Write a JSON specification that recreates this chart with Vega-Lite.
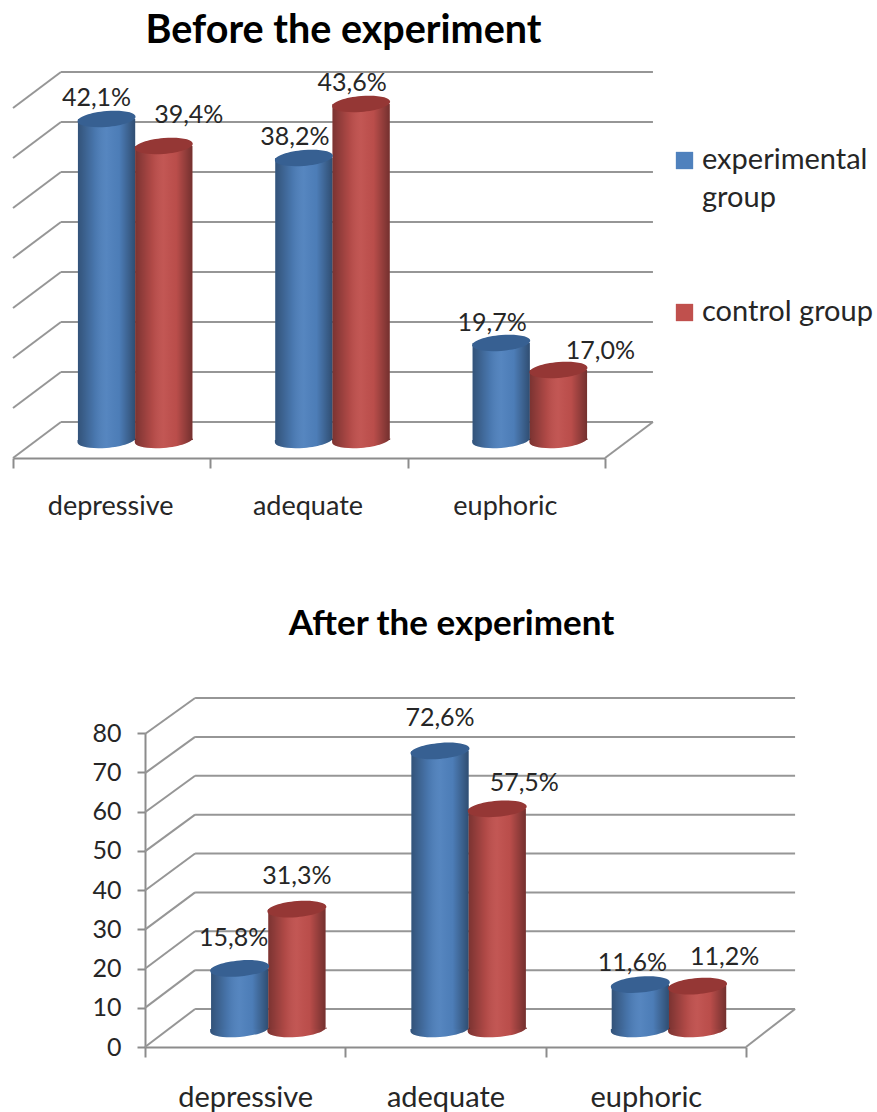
{
  "$schema": "https://vega.github.io/schema/vega-lite/v6.json",
  "padding": 0,
  "background": "white",
  "bounds": "flush",
  "spacing": 0,
  "config": {
    "view": {"stroke": null},
    "font": "Lato",
    "text": {"font": "Lato", "fontSize": 25, "color": "#262626"},
    "axis": {"labelFont": "Lato", "labelColor": "#262626", "grid": false, "title": null, "domainColor": "#8c8c8c", "tickColor": "#8c8c8c", "domainWidth": 2, "tickWidth": 2, "labelAngle": 0}
  },
  "datasets": {
    "before": [
      {"state": "depressive", "group": "experimental group", "value": 42.1, "label": "42,1%"},
      {"state": "depressive", "group": "control group", "value": 39.4, "label": "39,4%"},
      {"state": "adequate", "group": "experimental group", "value": 38.2, "label": "38,2%"},
      {"state": "adequate", "group": "control group", "value": 43.6, "label": "43,6%"},
      {"state": "euphoric", "group": "experimental group", "value": 19.7, "label": "19,7%"},
      {"state": "euphoric", "group": "control group", "value": 17.0, "label": "17,0%"}
    ],
    "after": [
      {"state": "depressive", "group": "experimental group", "value": 15.8, "label": "15,8%"},
      {"state": "depressive", "group": "control group", "value": 31.3, "label": "31,3%"},
      {"state": "adequate", "group": "experimental group", "value": 72.6, "label": "72,6%"},
      {"state": "adequate", "group": "control group", "value": 57.5, "label": "57,5%"},
      {"state": "euphoric", "group": "experimental group", "value": 11.6, "label": "11,6%"},
      {"state": "euphoric", "group": "control group", "value": 11.2, "label": "11,2%"}
    ],
    "wallBefore": [
      {"level": 10, "front": 6.4}, {"level": 15, "front": 11.4}, {"level": 20, "front": 16.4}, {"level": 25, "front": 21.4},
      {"level": 30, "front": 26.4}, {"level": 35, "front": 31.4}, {"level": 40, "front": 36.4}, {"level": 45, "front": 41.4}
    ],
    "wallAfter": [
      {"level": 0, "front": -9.77}, {"level": 10, "front": 0.29}, {"level": 20, "front": 10.36}, {"level": 30, "front": 20.42}, {"level": 40, "front": 30.48},
      {"level": 50, "front": 40.55}, {"level": 60, "front": 50.61}, {"level": 70, "front": 60.68}, {"level": 80, "front": 70.74}
    ]
  },
  "vconcat": [
    {
      "width": 877,
      "height": 560,
      "title": {"text": "Before the experiment", "font": "Lato", "fontSize": 39.5, "fontWeight": "bold", "color": "#000000", "anchor": "middle", "dx": -95, "offset": -51},
      "resolve": {"scale": {"x": "independent", "y": "independent"}},
      "layer": [
        {
          "data": {"name": "wallBefore"},
          "encoding": {
            "y": {"field": "level", "type": "quantitative", "axis": null, "scale": {"domain": [10, 45], "range": [422, 72]}}
          },
          "layer": [
            {"mark": {"type": "rule", "stroke": "#969696", "strokeWidth": 2},
             "encoding": {"x": {"datum": 0.243, "type": "quantitative", "axis": null, "scale": {"domain": [0, 3], "range": [13, 605]}}, "x2": {"datum": 3.243}}},
            {"mark": {"type": "rule", "stroke": "#969696", "strokeWidth": 2},
             "encoding": {"x": {"datum": 0.243, "type": "quantitative", "axis": null}, "x2": {"datum": 0}, "y2": {"field": "front"}}},
            {"transform": [{"filter": "datum.level === 10"}],
             "mark": {"type": "rule", "stroke": "#969696", "strokeWidth": 2},
             "encoding": {"x": {"datum": 3.243, "type": "quantitative", "axis": null}, "x2": {"datum": 3}, "y2": {"field": "front"}}}
          ]
        },
        {
          "data": {"name": "before"},
          "mark": {"type": "bar", "opacity": 0},
          "encoding": {
            "x": {"field": "state", "type": "nominal", "sort": null,
                  "scale": {"domain": ["depressive", "adequate", "euphoric"], "range": [13, 605], "paddingInner": 0, "paddingOuter": 0},
                  "axis": {"orient": "bottom", "offset": -102, "tickBand": "extent", "tickSize": 10, "labelFontSize": 27, "labelPadding": 25, "labelOffset": -1.5}}
          }
        },
        {
          "data": {"name": "before"},
          "encoding": {
            "x": {"field": "state", "type": "nominal", "axis": null,
                  "scale": {"domain": ["depressive", "adequate", "euphoric"], "range": [36.5, 628.5], "paddingInner": 0.42, "paddingOuter": 0.21}},
            "xOffset": {"field": "group", "type": "nominal", "scale": {"domain": ["experimental group", "control group"]}},
            "y": {"field": "value", "type": "quantitative", "axis": null, "scale": {"domain": [10, 45], "range": [440, 90]}},
            "color": {"field": "group", "type": "nominal", "sort": null,
               "scale": {"domain": ["experimental group", "control group"], "range": ["#4F81BD", "#C0504D"]},
               "legend": {"orient": "none", "legendX": 670, "legendY": 146, "padding": 0, "title": null, "symbolType": "square", "symbolSize": 300, "symbolStrokeWidth": 0, "labelFont": "Lato", "labelFontSize": 29, "labelColor": "#262626", "labelOffset": 3, "rowPadding": 84, "labelBaseline": "top", "labelLimit": 300,
                 "labelExpr": "datum.label === 'experimental group' ? ['experimental', 'group'] : datum.label",
                 "encoding": {"labels": {"lineHeight": {"value": 38}, "dy": {"value": -15}}}}}
          },
          "layer": [
            {"mark": {"type": "point", "filled": true, "opacity": 1, "size": 3364, "shape": "M-1,0L-1,0.08A1,0.27 -5 0,0 1,-0.08L1,0Z"},
             "encoding": {"y": {"datum": 10, "type": "quantitative"}}},
            {"mark": {"type": "bar"},
             "encoding": {"y2": {"datum": 10}}},
            {"mark": {"type": "point", "filled": true, "opacity": 1, "size": 3364, "shape": "M-1,0L-1,0.08A1,0.27 -5 0,0 1,-0.08L1,0Z", "fill": {"gradient": "linear", "x1": 0, "x2": 1, "y1": 0, "y2": 0, "stops": [{"offset": 0, "color": "rgba(0,0,0,0.36)"}, {"offset": 0.3, "color": "rgba(0,0,0,0.08)"}, {"offset": 0.5, "color": "rgba(255,255,255,0.04)"}, {"offset": 0.72, "color": "rgba(0,0,0,0.03)"}, {"offset": 1, "color": "rgba(0,0,0,0.4)"}]}},
             "encoding": {"y": {"datum": 10, "type": "quantitative"}, "color": {"value": null}}},
            {"mark": {"type": "bar", "fill": {"gradient": "linear", "x1": 0, "x2": 1, "y1": 0, "y2": 0, "stops": [{"offset": 0, "color": "rgba(0,0,0,0.36)"}, {"offset": 0.3, "color": "rgba(0,0,0,0.08)"}, {"offset": 0.5, "color": "rgba(255,255,255,0.04)"}, {"offset": 0.72, "color": "rgba(0,0,0,0.03)"}, {"offset": 1, "color": "rgba(0,0,0,0.4)"}]}},
             "encoding": {"y2": {"datum": 10}, "color": {"value": null}}},
            {"mark": {"type": "point", "filled": true, "opacity": 1, "size": 3364, "shape": "M-1,0.08A1,0.27 -5 1,1 1,-0.08A1,0.27 -5 1,1 -1,0.08Z"},
             "encoding": {"color": {"value": null}, "fill": {"field": "group", "type": "nominal", "legend": null, "scale": {"domain": ["experimental group", "control group"], "range": ["#376092", "#953735"]}}}},
            {"transform": [{"filter": "datum.label === '42,1%'"}], "mark": {"type": "text", "dx": -10, "dy": -21, "color": "#262626"}, "encoding": {"color": {"value": "#262626"}, "text": {"field": "label"}}},
            {"transform": [{"filter": "datum.label === '39,4%'"}], "mark": {"type": "text", "dx": 25, "dy": -31}, "encoding": {"color": {"value": "#262626"}, "text": {"field": "label"}}},
            {"transform": [{"filter": "datum.label === '38,2%'"}], "mark": {"type": "text", "dx": -9, "dy": -21}, "encoding": {"color": {"value": "#262626"}, "text": {"field": "label"}}},
            {"transform": [{"filter": "datum.label === '43,6%'"}], "mark": {"type": "text", "dx": -9, "dy": -21}, "encoding": {"color": {"value": "#262626"}, "text": {"field": "label"}}},
            {"transform": [{"filter": "datum.label === '19,7%'"}], "mark": {"type": "text", "dx": -9, "dy": -20}, "encoding": {"color": {"value": "#262626"}, "text": {"field": "label"}}},
            {"transform": [{"filter": "datum.label === '17,0%'"}], "mark": {"type": "text", "dx": 42, "dy": -19}, "encoding": {"color": {"value": "#262626"}, "text": {"field": "label"}}}
          ]
        }
      ]
    },
    {
      "width": 877,
      "height": 552,
      "title": {"text": "After the experiment", "font": "Lato", "fontSize": 35, "fontWeight": "bold", "color": "#000000", "anchor": "middle", "dx": 13, "offset": -82},
      "resolve": {"scale": {"x": "independent", "y": "independent"}},
      "layer": [
        {
          "data": {"name": "wallAfter"},
          "encoding": {
            "y": {"field": "level", "type": "quantitative", "axis": null, "scale": {"domain": [0, 80], "range": [449, 138]}}
          },
          "layer": [
            {"mark": {"type": "rule", "stroke": "#969696", "strokeWidth": 2},
             "encoding": {"x": {"datum": 0.25, "type": "quantitative", "axis": null, "scale": {"domain": [0, 3], "range": [145, 746]}}, "x2": {"datum": 3.245}}},
            {"mark": {"type": "rule", "stroke": "#969696", "strokeWidth": 2},
             "encoding": {"x": {"datum": 0.25, "type": "quantitative", "axis": null}, "x2": {"datum": 0}, "y2": {"field": "front"}}},
            {"transform": [{"filter": "datum.level === 0"}],
             "mark": {"type": "rule", "stroke": "#969696", "strokeWidth": 2},
             "encoding": {"x": {"datum": 3.245, "type": "quantitative", "axis": null}, "x2": {"datum": 3}, "y2": {"field": "front"}}}
          ]
        },
        {
          "data": {"name": "after"},
          "mark": {"type": "point", "opacity": 0},
          "encoding": {
            "x": {"field": "state", "type": "nominal", "sort": null,
                  "scale": {"domain": ["depressive", "adequate", "euphoric"], "range": [145, 746], "paddingInner": 0, "paddingOuter": 0},
                  "axis": {"orient": "bottom", "offset": -65, "tickBand": "extent", "tickSize": 10, "labelFontSize": 29, "labelPadding": 26}},
            "y": {"field": "value", "type": "quantitative",
                  "scale": {"domain": [0, 80], "range": [487, 173]},
                  "axis": {"orient": "left", "offset": -145, "values": [0, 10, 20, 30, 40, 50, 60, 70, 80], "tickSize": 8, "labelFontSize": 25, "labelPadding": 16}}
          }
        },
        {
          "data": {"name": "after"},
          "encoding": {
            "x": {"field": "state", "type": "nominal", "axis": null,
                  "scale": {"domain": ["depressive", "adequate", "euphoric"], "range": [169, 770], "paddingInner": 0.42, "paddingOuter": 0.21}},
            "xOffset": {"field": "group", "type": "nominal", "scale": {"domain": ["experimental group", "control group"]}},
            "y": {"field": "value", "type": "quantitative", "axis": null, "scale": {"domain": [0, 80], "range": [469, 162.6]}}
          },
          "layer": [
            {"mark": {"type": "point", "filled": true, "opacity": 1, "size": 3481, "shape": "M-1,0L-1,0.08A1,0.27 -5 0,0 1,-0.08L1,0Z"},
             "encoding": {"y": {"datum": 0, "type": "quantitative"}, "color": {"field": "group", "type": "nominal", "legend": null, "scale": {"domain": ["experimental group", "control group"], "range": ["#4F81BD", "#C0504D"]}}}},
            {"mark": {"type": "bar"},
             "encoding": {"y2": {"datum": 0}, "color": {"field": "group", "type": "nominal", "legend": null}}},
            {"mark": {"type": "point", "filled": true, "opacity": 1, "size": 3481, "shape": "M-1,0L-1,0.08A1,0.27 -5 0,0 1,-0.08L1,0Z", "fill": {"gradient": "linear", "x1": 0, "x2": 1, "y1": 0, "y2": 0, "stops": [{"offset": 0, "color": "rgba(0,0,0,0.36)"}, {"offset": 0.3, "color": "rgba(0,0,0,0.08)"}, {"offset": 0.5, "color": "rgba(255,255,255,0.04)"}, {"offset": 0.72, "color": "rgba(0,0,0,0.03)"}, {"offset": 1, "color": "rgba(0,0,0,0.4)"}]}},
             "encoding": {"y": {"datum": 0, "type": "quantitative"}}},
            {"mark": {"type": "bar", "fill": {"gradient": "linear", "x1": 0, "x2": 1, "y1": 0, "y2": 0, "stops": [{"offset": 0, "color": "rgba(0,0,0,0.36)"}, {"offset": 0.3, "color": "rgba(0,0,0,0.08)"}, {"offset": 0.5, "color": "rgba(255,255,255,0.04)"}, {"offset": 0.72, "color": "rgba(0,0,0,0.03)"}, {"offset": 1, "color": "rgba(0,0,0,0.4)"}]}},
             "encoding": {"y2": {"datum": 0}}},
            {"mark": {"type": "point", "filled": true, "opacity": 1, "size": 3481, "shape": "M-1,0.08A1,0.27 -5 1,1 1,-0.08A1,0.27 -5 1,1 -1,0.08Z"},
             "encoding": {"fill": {"field": "group", "type": "nominal", "legend": null, "scale": {"domain": ["experimental group", "control group"], "range": ["#376092", "#953735"]}}}},
            {"transform": [{"filter": "datum.label === '15,8%'"}], "mark": {"type": "text", "dx": -6, "dy": -30, "color": "#262626"}, "encoding": {"text": {"field": "label"}}},
            {"transform": [{"filter": "datum.label === '31,3%'"}], "mark": {"type": "text", "dx": 0, "dy": -33, "color": "#262626"}, "encoding": {"text": {"field": "label"}}},
            {"transform": [{"filter": "datum.label === '72,6%'"}], "mark": {"type": "text", "dx": 0, "dy": -33, "color": "#262626"}, "encoding": {"text": {"field": "label"}}},
            {"transform": [{"filter": "datum.label === '57,5%'"}], "mark": {"type": "text", "dx": 27, "dy": -26, "color": "#262626"}, "encoding": {"text": {"field": "label"}}},
            {"transform": [{"filter": "datum.label === '11,6%'"}], "mark": {"type": "text", "dx": -8, "dy": -22, "color": "#262626"}, "encoding": {"text": {"field": "label"}}},
            {"transform": [{"filter": "datum.label === '11,2%'"}], "mark": {"type": "text", "dx": 27, "dy": -29, "color": "#262626"}, "encoding": {"text": {"field": "label"}}}
          ]
        }
      ]
    }
  ]
}
